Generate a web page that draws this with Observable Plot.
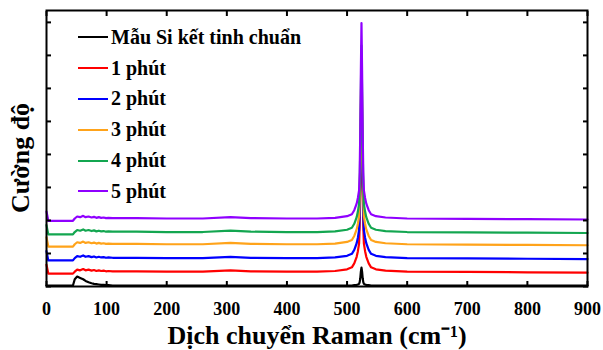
<!DOCTYPE html>
<html>
<head>
<meta charset="utf-8">
<script src="https://cdn.jsdelivr.net/npm/d3@7"></script>
<script src="https://cdn.jsdelivr.net/npm/@observablehq/plot@0.6"></script>
<style>
  html, body { margin: 0; padding: 0; background: #fff; }
  #wrap { position: relative; width: 603px; height: 350px; font-family: "Liberation Serif", "Times New Roman", serif; font-weight: bold; }
  #legend { position: absolute; left: 78px; top: 22px; }
  .row { display: flex; align-items: center; height: 30.8px; font-size: 20px; color: #000; }
  .sw { width: 30px; height: 2px; margin-right: 3px; }
  #ytitle { position: absolute; left: 21px; top: 158px; transform: translate(-50%, -50%) rotate(-90deg); font-size: 26px; white-space: nowrap; color: #000; line-height: 1; }
</style>
</head>
<body>
<div id="wrap"><div id="legend"></div><div id="ytitle"></div></div>
<script>
// Raman shift (cm-1)
const ramanShift = [0,3,44,47,51,56,61,65,70,75, 79,83,87,91,95,99,103,110,150,200, 260,306,340,400,450,480,500,508,512,516, 518,520,521,522,523,524,525,526,527,528, 530,532,536,540,548,564,600,700,800,900];

const siRef = [0.03,0.03,0.03,0.22,0.30,0.26,0.22,0.17,0.13,0.10, 0.08,0.07,0.06,0.05,0.05,0.04,0.04,0.03,0.03,0.03, 0.03,0.03,0.03,0.03,0.03,0.03,0.03,0.03,0.04,0.05, 0.06,0.08,0.13,0.25,0.45,0.57,0.45,0.25,0.13,0.08, 0.06,0.05,0.04,0.03,0.03,0.03,0.03,0.03,0.03,0.03];
const min1 = [0.66,0.39,0.39,0.45,0.51,0.49,0.53,0.49,0.51,0.48, 0.50,0.47,0.49,0.47,0.48,0.46,0.47,0.46,0.46,0.45, 0.45,0.49,0.46,0.45,0.45,0.47,0.52,0.58,0.70,0.90, 1.07,1.30,1.82,3.00,4.65,6.10,4.65,3.00,1.82,1.30, 1.07,0.90,0.70,0.58,0.52,0.48,0.45,0.44,0.43,0.42];
const min2 = [1.07,0.79,0.79,0.86,0.92,0.90,0.94,0.90,0.92,0.89, 0.91,0.88,0.90,0.88,0.89,0.87,0.88,0.87,0.87,0.86, 0.86,0.90,0.87,0.86,0.86,0.88,0.93,0.99,1.11,1.31, 1.48,1.71,2.23,3.40,5.05,6.50,5.05,3.40,2.23,1.71, 1.48,1.31,1.11,0.99,0.93,0.89,0.86,0.85,0.84,0.83];
const min3 = [1.49,1.21,1.21,1.28,1.34,1.32,1.36,1.32,1.34,1.31, 1.33,1.30,1.32,1.30,1.31,1.29,1.30,1.29,1.29,1.28, 1.28,1.32,1.29,1.28,1.28,1.30,1.35,1.41,1.53,1.73, 1.90,2.13,2.65,3.85,5.50,6.90,5.50,3.85,2.65,2.13, 1.90,1.73,1.53,1.41,1.35,1.31,1.28,1.27,1.26,1.25];
const min4 = [1.86,1.58,1.58,1.65,1.71,1.69,1.73,1.69,1.71,1.68, 1.70,1.67,1.69,1.67,1.68,1.66,1.67,1.66,1.66,1.65, 1.65,1.69,1.66,1.65,1.65,1.67,1.72,1.78,1.90,2.10, 2.27,2.50,3.02,4.20,5.90,7.30,5.90,4.20,3.02,2.50, 2.27,2.10,1.90,1.78,1.72,1.68,1.65,1.64,1.63,1.62];
const min5 = [2.27,1.99,1.99,2.06,2.12,2.10,2.14,2.10,2.12,2.09, 2.11,2.08,2.10,2.08,2.09,2.07,2.08,2.07,2.07,2.06, 2.06,2.10,2.07,2.06,2.06,2.08,2.13,2.19,2.31,2.51, 2.68,2.91,3.45,4.70,6.55,7.98,6.55,4.70,3.45,2.91, 2.68,2.51,2.31,2.19,2.13,2.09,2.06,2.05,2.04,2.03];

const seriesNames = ["Mẫu Si kết tinh chuẩn", "1 phút", "2 phút", "3 phút", "4 phút", "5 phút"];
const seriesColors = ["#000000", "#ff0000", "#0000ff", "#ffa31a", "#13a650", "#8f00ff"];
const seriesValues = [siRef, min1, min2, min3, min4, min5];

const xTicks = [0,100,200,300,400,500,600,700,800,900];
const yTicks = [0,1,2,3,4,5,6,7,8];
const xTitle = "Dịch chuyển Raman (cm⁻¹)";
const yTitle = "Cường độ";

const rows = seriesValues.flatMap((ys, i) =>
  ramanShift.map((x, j) => ({x, y: ys[j], s: seriesNames[i]})));

const chart = Plot.plot({
  width: 603,
  height: 350,
  marginLeft: 46,
  marginRight: 16,
  marginTop: 10,
  marginBottom: 64,
  style: {fontFamily: "'Liberation Serif', 'Times New Roman', serif", fontWeight: "bold", color: "#000", background: "#fff", overflow: "visible"},
  x: {domain: [0, 900]},
  y: {domain: [0, 8.36]},
  color: {domain: seriesNames, range: seriesColors},
  marks: [
    Plot.line(rows, {x: "x", y: "y", z: "s", stroke: "s", strokeWidth: 2.2, curve: "linear"}),
    Plot.axisX({anchor: "bottom", ticks: xTicks, tickSize: -5, strokeWidth: 2, tickPadding: 21, fontSize: 18, label: null}),
    Plot.axisX({anchor: "top", ticks: xTicks, tickSize: -5, strokeWidth: 2, tickFormat: () => "", label: null}),
    Plot.axisY({anchor: "left", ticks: yTicks, tickSize: -5, strokeWidth: 2, tickFormat: () => "", label: null}),
    Plot.axisY({anchor: "right", ticks: yTicks, tickSize: -5, strokeWidth: 2, tickFormat: () => "", label: null}),
    Plot.frame({strokeWidth: 2}),
    Plot.axisX({anchor: "bottom", ticks: [], label: xTitle, labelAnchor: "center", labelArrow: "none", labelOffset: 57, fontSize: 26})
  ]
});
document.getElementById("wrap").prepend(chart);
document.getElementById("ytitle").textContent = yTitle;

const legend = document.getElementById("legend");
seriesNames.forEach((name, i) => {
  const row = document.createElement("div");
  row.className = "row";
  const sw = document.createElement("span");
  sw.className = "sw";
  sw.style.background = seriesColors[i];
  const t = document.createElement("span");
  t.textContent = name;
  row.append(sw, t);
  legend.append(row);
});
</script>
</body>
</html>
